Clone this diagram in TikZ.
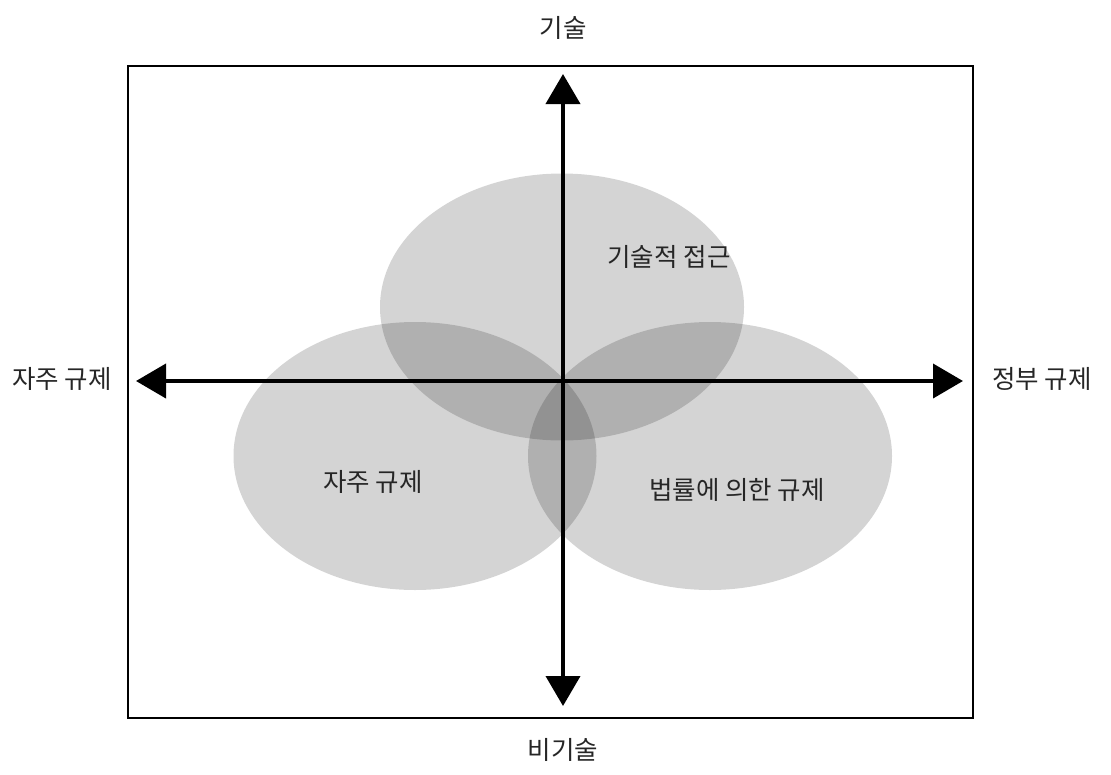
\documentclass[tikz,border=0pt]{standalone}
\usepackage{fontspec}
\setmainfont{Noto Sans CJK KR}
\usetikzlibrary{arrows.meta,shapes.geometric}

\begin{document}
\begin{tikzpicture}[
    x=1pt, y=-1pt,
    zone/.style={ellipse, draw=none, fill=black, fill opacity=0.17,
                 inner sep=0pt},
    axis/.style={{Triangle[length=30pt, width=34pt]}-{Triangle[length=30pt, width=34pt]},
                 line width=4pt},
    lbl/.style={font=\fontsize{25.5}{30}\selectfont, inner sep=0pt, text=black!85},
]
\useasboundingbox (0,0) rectangle (1111,774);

%% Rahmen
\draw[line width=2pt] (128,66) rectangle (973,718);

%% Bereiche
\node[zone, minimum width=364pt, minimum height=267pt] (tech) at (562,307) {};
\node[zone, minimum width=363pt, minimum height=268pt] (self) at (415,456) {};
\node[zone, minimum width=364pt, minimum height=268pt] (law)  at (710,456) {};

\node[lbl] (l-tech) at (669,257) {기술적 접근};
\node[lbl] (l-self) at (373,482) {자주 규제};
\node[lbl] (l-law)  at (737,490) {법률에 의한 규제};

%% Achsen
\coordinate (n) at (563,74);
\coordinate (s) at (563,706);
\coordinate (w) at (136,381);
\coordinate (e) at (963,381);
\draw[axis] (s) -- (n);
\draw[axis] (w) -- (e);

%% Achsenbeschriftung
\node[lbl] (a-n) at (563,28)  {기술};
\node[lbl] (a-s) at (563,750) {비기술};
\node[lbl] (a-w) at (62,379)  {자주 규제};
\node[lbl] (a-e) at (1042,379) {정부 규제};
\end{tikzpicture}
\end{document}
